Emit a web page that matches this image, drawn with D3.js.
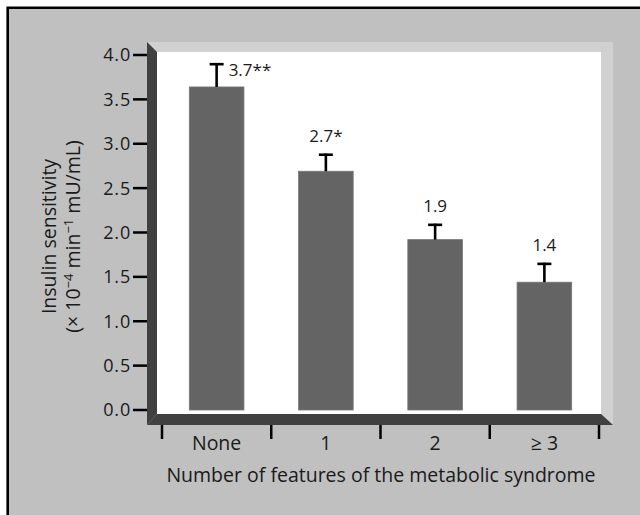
<!DOCTYPE html>
<html>
<head>
<meta charset="utf-8">
<script src="https://cdn.jsdelivr.net/npm/d3@7"></script>
<style>
  html, body { margin: 0; padding: 0; background: #fff; }
  svg { display: block; font-family: "Open Sans", sans-serif; }
  .tick-label { font-size: 18px; letter-spacing: 0.8px; fill: #1a1a1a; }
  .cat-label { font-size: 19.5px; fill: #1a1a1a; }
  .val-label { font-size: 17px; fill: #1a1a1a; }
  .axis-title { font-size: 19.5px; fill: #1a1a1a; }
</style>
</head>
<body>
<div id="chart"></div>
<script>
/* insulin sensitivity by number of metabolic syndrome features */

const categories = ["None", "1", "2", "\u2265 3"];
const means = [3.64, 2.69, 1.92, 1.44];
const sem = [0.27, 0.20, 0.18, 0.22];
const valueLabels = ["3.7**", "2.7*", "1.9", "1.4"];
const yTicks = [0, 0.5, 1, 1.5, 2, 2.5, 3, 3.5, 4];

(() => {
  'use strict';

  const size = { width: 640, height: 515 };
  // inner (white) box of the bevelled panel
  const box = { left: 157, right: 601, top: 52, bottom: 414 };
  const bevel = 11;

  const svg = d3.select("#chart").append("svg")
    .attr("width", size.width)
    .attr("height", size.height);

  // outer grey frame, black rule on top and left only
  svg.append("rect")
    .attr("x", 8).attr("y", 8)
    .attr("width", size.width).attr("height", size.height)
    .style("fill", "#c0c0c0");
  svg.append("path")
    .attr("d", "M7.7," + size.height + "V7.7H" + size.width)
    .style("fill", "none")
    .style("stroke", "#000")
    .style("stroke-width", 2.6);

  const x = d3.scaleBand()
    .domain(categories)
    .range([162, 599])
    .paddingInner(0.5)
    .paddingOuter(0.25);

  const y = d3.scaleLinear()
    .domain([0, 4])
    .range([410, 55]);

  // bevelled panel: light on top/right, dark on left/bottom
  const oL = box.left - bevel + 1, oR = box.right + bevel + 1;
  const oT = box.top - bevel + 1, oB = box.bottom + bevel;
  const panel = svg.append("g").attr("class", "panel");
  panel.append("rect")
    .attr("x", box.left).attr("y", box.top)
    .attr("width", box.right - box.left)
    .attr("height", box.bottom - box.top)
    .style("fill", "#fff");
  const faces = [
    { pts: [[oL, oT], [oR, oT], [box.right, box.top], [box.left, box.top]], fill: "#d1d1d1" },
    { pts: [[oR, oT], [oR, oB], [box.right, box.bottom], [box.right, box.top]], fill: "#d1d1d1" },
    { pts: [[oL, oT], [box.left, box.top], [box.left, box.bottom], [oL, oB]], fill: "#404040" },
    { pts: [[oL, oB], [box.left, box.bottom], [box.right, box.bottom], [oR, oB]], fill: "#404040" }
  ];
  panel.selectAll("path.face")
    .data(faces)
    .enter().append("path")
    .attr("class", "face")
    .attr("d", d => "M" + d.pts.map(p => p.join(",")).join("L") + "Z")
    .style("fill", d => d.fill);

  // y axis: ticks + labels
  const yAxis = svg.append("g").attr("class", "y axis");
  yAxis.selectAll("line")
    .data(yTicks)
    .enter().append("line")
    .attr("x1", 133).attr("x2", oL)
    .attr("y1", d => y(d)).attr("y2", d => y(d))
    .style("stroke", "#000")
    .style("stroke-width", 2.5);
  yAxis.selectAll("text")
    .data(yTicks)
    .enter().append("text")
    .attr("class", "tick-label")
    .attr("x", 131)
    .attr("y", d => y(d))
    .attr("dy", "0.36em")
    .attr("text-anchor", "end")
    .text(d => d3.format(".1f")(d));

  // x axis: separators between categories
  const step = x.step();
  const sepTicks = d3.range(categories.length + 1).map(i => x.range()[0] + i * step);
  const xAxis = svg.append("g").attr("class", "x axis");
  xAxis.selectAll("line")
    .data(sepTicks)
    .enter().append("line")
    .attr("x1", d => d).attr("x2", d => d)
    .attr("y1", oB).attr("y2", oB + 14)
    .style("stroke", "#000")
    .style("stroke-width", 2.5);
  xAxis.selectAll("text")
    .data(categories)
    .enter().append("text")
    .attr("class", "cat-label")
    .attr("x", d => x(d) + x.bandwidth() / 2)
    .attr("y", 450)
    .attr("text-anchor", "middle")
    .text(d => d);

  const data = categories.map((c, i) => ({
    cat: c, mean: means[i], sem: sem[i], label: valueLabels[i]
  }));

  // bars
  svg.append("g").attr("class", "bars")
    .selectAll("rect")
    .data(data)
    .enter().append("rect")
    .attr("x", d => x(d.cat))
    .attr("y", d => y(d.mean))
    .attr("width", x.bandwidth())
    .attr("height", d => y(0) - y(d.mean))
    .style("fill", "#646464")
    .style("stroke", "#777")
    .style("stroke-width", 0.8);

  // error bars (upper only)
  const err = svg.append("g").attr("class", "errors");
  const cx = d => x(d.cat) + x.bandwidth() / 2;
  err.selectAll("line.stem")
    .data(data)
    .enter().append("line")
    .attr("class", "stem")
    .attr("x1", cx).attr("x2", cx)
    .attr("y1", d => y(d.mean))
    .attr("y2", d => y(d.mean + d.sem))
    .style("stroke", "#000")
    .style("stroke-width", 2.6);
  err.selectAll("line.cap")
    .data(data)
    .enter().append("line")
    .attr("class", "cap")
    .attr("x1", d => cx(d) - 7).attr("x2", d => cx(d) + 7)
    .attr("y1", d => y(d.mean + d.sem) + 1.2)
    .attr("y2", d => y(d.mean + d.sem) + 1.2)
    .style("stroke", "#000")
    .style("stroke-width", 2.6);

  // value labels; the tallest one sits beside its error bar
  svg.append("g").attr("class", "values")
    .selectAll("text")
    .data(data)
    .enter().append("text")
    .attr("class", "val-label")
    .attr("x", (d, i) => i === 0 ? cx(d) + 12 : cx(d))
    .attr("y", (d, i) => i === 0 ? y(d.mean + d.sem) + 13 : y(d.mean + d.sem) - 12)
    .attr("text-anchor", (d, i) => i === 0 ? "start" : "middle")
    .text(d => d.label);

  // axis titles
  svg.append("text")
    .attr("class", "axis-title")
    .attr("x", 381)
    .attr("y", 482)
    .attr("text-anchor", "middle")
    .text("Number of features of the metabolic syndrome");

  const yTitle = svg.append("text")
    .attr("class", "axis-title")
    .attr("transform", "translate(56," + ((y(0) + y(4)) / 2 + 4) + ") rotate(-90)")
    .attr("text-anchor", "middle");
  yTitle.append("tspan")
    .attr("x", 0).attr("y", 0)
    .text("Insulin sensitivity");
  const l2 = yTitle.append("tspan")
    .attr("x", 0).attr("y", 24);
  l2.append("tspan").text("(\u00d7 10");
  l2.append("tspan").attr("dy", -7).style("font-size", "13px").text("\u22124");
  l2.append("tspan").attr("dy", 7).text(" min");
  l2.append("tspan").attr("dy", -7).style("font-size", "13px").text("\u22121");
  l2.append("tspan").attr("dy", 7).text(" mU/mL)");
})();
</script>
</body>
</html>
